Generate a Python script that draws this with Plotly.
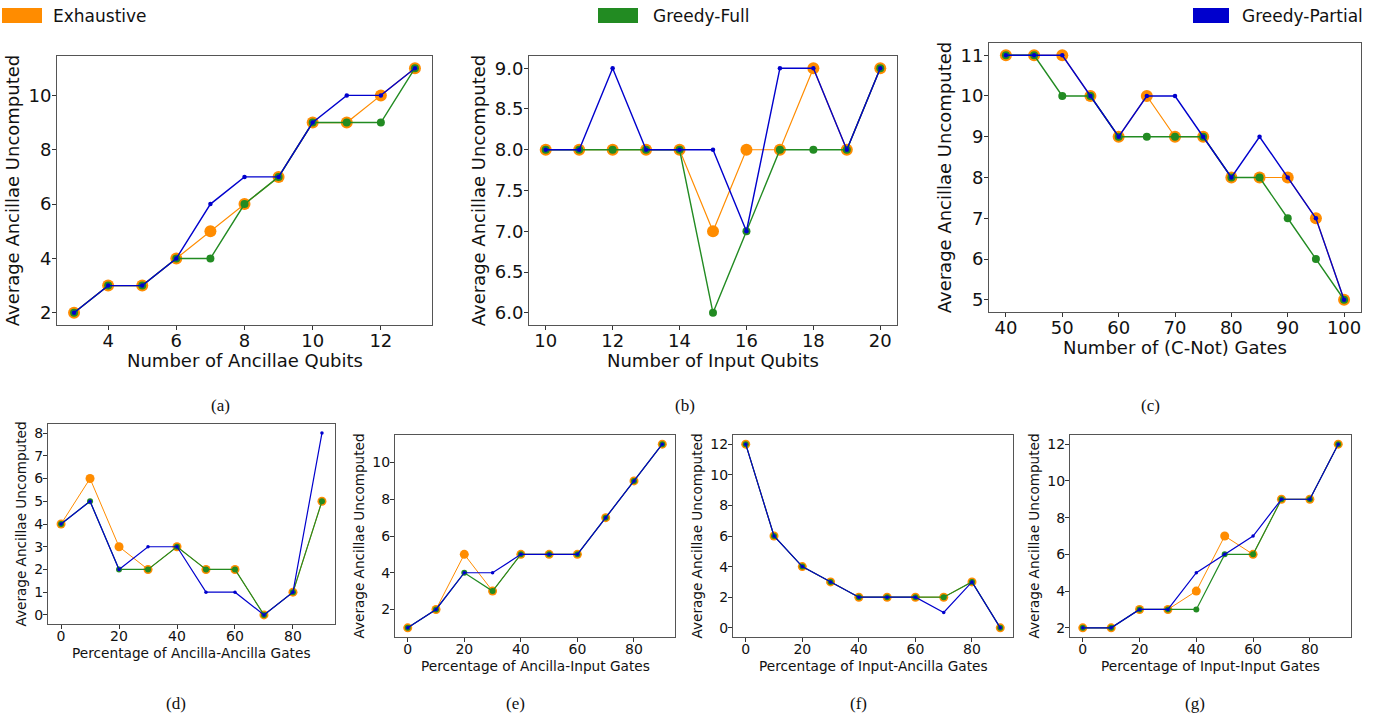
import plotly.graph_objects as go

# ---------------- data ----------------
x_a = [3, 4, 5, 6, 7, 8, 9, 10, 11, 12, 13]
exh_a = [2, 3, 3, 4, 5, 6, 7, 9, 9, 10, 11]
gf_a = [2, 3, 3, 4, 4, 6, 7, 9, 9, 9, 11]
gp_a = [2, 3, 3, 4, 6, 7, 7, 9, 10, 10, 11]

x_b = [10, 11, 12, 13, 14, 15, 16, 17, 18, 19, 20]
exh_b = [8, 8, 8, 8, 8, 7, 8, 8, 9, 8, 9]
gf_b = [8, 8, 8, 8, 8, 6, 7, 8, 8, 8, 9]
gp_b = [8, 8, 9, 8, 8, 8, 7, 9, 9, 8, 9]

x_c = [40, 45, 50, 55, 60, 65, 70, 75, 80, 85, 90, 95, 100]
exh_c = [11, 11, 11, 10, 9, 10, 9, 9, 8, 8, 8, 7, 5]
gf_c = [11, 11, 10, 10, 9, 9, 9, 9, 8, 8, 7, 6, 5]
gp_c = [11, 11, 11, 10, 9, 10, 10, 9, 8, 9, 8, 7, 5]

x_pct = [0, 10, 20, 30, 40, 50, 60, 70, 80, 90]
exh_d = [4, 6, 3, 2, 3, 2, 2, 0, 1, 5]
gf_d = [4, 5, 2, 2, 3, 2, 2, 0, 1, 5]
gp_d = [4, 5, 2, 3, 3, 1, 1, 0, 1, 8]

exh_e = [1, 2, 5, 3, 5, 5, 5, 7, 9, 11]
gf_e = [1, 2, 4, 3, 5, 5, 5, 7, 9, 11]
gp_e = [1, 2, 4, 4, 5, 5, 5, 7, 9, 11]

exh_f = [12, 6, 4, 3, 2, 2, 2, 2, 3, 0]
gf_f = [12, 6, 4, 3, 2, 2, 2, 2, 3, 0]
gp_f = [12, 6, 4, 3, 2, 2, 2, 1, 3, 0]

exh_g = [2, 2, 3, 3, 4, 7, 6, 9, 9, 12]
gf_g = [2, 2, 3, 3, 3, 6, 6, 9, 9, 12]
gp_g = [2, 2, 3, 3, 5, 6, 7, 9, 9, 12]

series_names = ["Exhaustive", "Greedy-Full", "Greedy-Partial"]
captions = ["(a)", "(b)", "(c)", "(d)", "(e)", "(f)", "(g)"]
x_titles = ["Number of Ancillae Qubits", "Number of Input Qubits", "Number of (C-Not) Gates",
            "Percentage of Ancilla-Ancilla Gates", "Percentage of Ancilla-Input Gates",
            "Percentage of Input-Ancilla Gates", "Percentage of Input-Input Gates"]
y_title = "Average Ancillae Uncomputed"

# ---------------- styling ----------------
W, H = 1387, 713
C_EXH, C_GF, C_GP = "#FF8C00", "#228B22", "#0000CD"
FONT = "DejaVu Sans"

def px_x(v):
    return v / W

def px_y(v):
    return 1 - v / H

panels = [
    # (xdata, series, left, right, top, bottom, xtitle_y, xrange, yrange, xdtick, x0tick, ydtick, yfmt, big)
    (x_a, (exh_a, gf_a, gp_a), 57, 432, 56, 325, 360, [2.5, 13.5], [1.55, 11.45], 2, 4, 2, None, True),
    (x_b, (exh_b, gf_b, gp_b), 529, 897, 56, 325, 360, [9.5, 20.5], [5.85, 9.15], 2, 10, 0.5, ".1f", True),
    (x_c, (exh_c, gf_c, gp_c), 989, 1361, 43, 312, 347, [37, 103], [4.7, 11.3], 10, 40, 1, None, True),
    (x_pct, (exh_d, gf_d, gp_d), 48, 335, 424, 624, 653, [-4.5, 94.5], [-0.4, 8.4], 20, 0, 1, None, False),
    (x_pct, (exh_e, gf_e, gp_e), 395, 675, 435, 637, 666, [-4.5, 94.5], [0.5, 11.5], 20, 0, 2, None, False),
    (x_pct, (exh_f, gf_f, gp_f), 733, 1013, 435, 637, 666, [-4.5, 94.5], [-0.6, 12.6], 20, 0, 2, None, False),
    (x_pct, (exh_g, gf_g, gp_g), 1070, 1351, 435, 637, 666, [-4.5, 94.5], [1.5, 12.5], 20, 0, 2, None, False),
]

fig = go.Figure()
layout = {}
for i, (xd, ser, l, r, t, b, xty, xr, yr, xdt, x0, ydt, yfmt, big) in enumerate(panels):
    k = "" if i == 0 else str(i + 1)
    xa, ya = "x" + k, "y" + k
    ms = (12, 8, 4.5) if big else (9, 6, 3.5)
    lw = (1.2, 1.4, 1.4) if big else (1.0, 1.2, 1.2)
    for s, c, m, w, name in zip(ser, (C_EXH, C_GF, C_GP), ms, lw, series_names):
        fig.add_trace(go.Scatter(
            x=xd, y=s, mode="lines+markers", name=name, showlegend=False,
            line=dict(color=c, width=w), marker=dict(color=c, size=m, line=dict(width=0)),
            xaxis=xa, yaxis=ya, hoverinfo="x+y+name"))
    tick_size = 18 if big else 14
    xt_size = 18 if big else 13.7
    yt_size = 18 if big else 13.6
    common = dict(showline=True, mirror=True, linecolor="#555555", linewidth=1,
                  ticks="outside", ticklen=4, tickcolor="#333333", showgrid=False,
                  zeroline=False, tickfont=dict(family=FONT, size=tick_size, color="#111111"))
    layout["xaxis" + k] = dict(domain=[px_x(l), px_x(r)], anchor=ya, range=xr,
                                tick0=x0, dtick=xdt, ticklabelstandoff=-5, **common)
    yd = dict(domain=[px_y(b), px_y(t)], anchor=xa, range=yr, tick0=0, dtick=ydt,
              ticklabelstandoff=-3,
              title=dict(text=y_title, font=dict(family=FONT, size=yt_size, color="#111111"),
                         standoff=4), **common)
    if yfmt:
        yd["tickformat"] = yfmt
    layout["yaxis" + k] = yd
    # x-axis title placed as in the reference
    fig.add_annotation(x=px_x((l + r) / 2), y=px_y(xty), xref="paper", yref="paper",
                       text=x_titles[i], showarrow=False,
                       font=dict(family=FONT, size=xt_size, color="#111111"),
                       xanchor="center", yanchor="middle")

fig.update_layout(**layout)

# captions
cap_pos = [(220, 405), (685, 405), (1150, 405), (176, 703), (515, 703), (858, 703), (1195, 703)]
for cap, (cx, cy) in zip(captions, cap_pos):
    fig.add_annotation(x=px_x(cx), y=px_y(cy), xref="paper", yref="paper", text=cap, showarrow=False,
                       font=dict(family="Liberation Serif", size=17, color="#111111"),
                       xanchor="center", yanchor="middle")

# legend (top row patches + labels)
leg = [(2, 42, 51, C_EXH), (598, 638, 651, C_GF), (1193, 1229, 1240, C_GP)]
for (p0, p1, tx, c), name in zip(leg, series_names):
    fig.add_shape(type="rect", xref="paper", yref="paper", x0=px_x(p0), x1=px_x(p1),
                  y0=px_y(23), y1=px_y(8), fillcolor=c, line=dict(width=0))
    fig.add_annotation(x=px_x(tx), y=px_y(16), xref="paper", yref="paper", text=name, showarrow=False,
                       font=dict(family=FONT, size=17, color="#111111"), xanchor="left", yanchor="middle")

fig.update_layout(width=W, height=H, margin=dict(l=0, r=0, t=0, b=0),
                  paper_bgcolor="white", plot_bgcolor="white", showlegend=False)

fig.write_html("out.html", config={"displayModeBar": False},
               post_script="document.body.style.margin='0px';document.body.style.overflow='hidden';")
